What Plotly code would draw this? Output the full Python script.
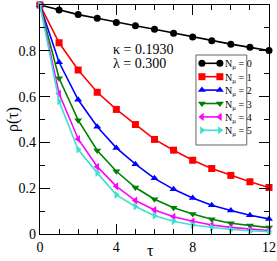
import plotly.graph_objects as go

tau = [0, 1, 2, 3, 4, 5, 6, 7, 8, 9, 10, 11, 12]
rho_n0 = [1.0, 0.978, 0.958, 0.942, 0.924, 0.909, 0.894, 0.877, 0.860, 0.844, 0.829, 0.815, 0.801]
rho_n1 = [1.0, 0.835, 0.716, 0.619, 0.544, 0.478, 0.413, 0.366, 0.322, 0.286, 0.256, 0.228, 0.203]
rho_n2 = [1.0, 0.750, 0.586, 0.468, 0.376, 0.305, 0.243, 0.195, 0.157, 0.126, 0.103, 0.082, 0.066]
rho_n3 = [1.0, 0.680, 0.497, 0.365, 0.274, 0.203, 0.152, 0.115, 0.087, 0.064, 0.047, 0.037, 0.028]
rho_n4 = [1.0, 0.613, 0.415, 0.294, 0.208, 0.146, 0.105, 0.075, 0.056, 0.039, 0.029, 0.021, 0.015]
rho_n5 = [1.0, 0.580, 0.369, 0.267, 0.171, 0.120, 0.080, 0.056, 0.039, 0.028, 0.020, 0.014, 0.010]

labels = ["N<sub>μ</sub> = 0", "N<sub>μ</sub> = 1", "N<sub>μ</sub> = 2",
          "N<sub>μ</sub> = 3", "N<sub>μ</sub> = 4", "N<sub>μ</sub> = 5"]
values = [rho_n0, rho_n1, rho_n2, rho_n3, rho_n4, rho_n5]
colors = ["black", "red", "blue", "green", "magenta", "#40E0D0"]
symbols = ["circle", "square", "triangle-up", "triangle-down", "triangle-left", "triangle-right"]

# plot area in pixels
L, R, T, B = 39.5, 269.3, 5.0, 234.0
W, H = R - L, B - T


def px(xp):
    return (xp - L) / W


def py(yp):
    return (B - yp) / H


serif = "Liberation Serif, Times New Roman, serif"

fig = go.Figure()
for name, vals, color, sym in zip(labels, values, colors, symbols):
    fig.add_trace(go.Scatter(
        x=tau, y=vals, name=name, mode="lines+markers",
        line=dict(color=color, width=1.6),
        marker=dict(color=color, symbol=sym, size=7),
        cliponaxis=False, showlegend=False,
    ))

# custom legend (box + line samples with markers at both ends), drawn on an overlay axis
box_l, box_r, box_t, box_b = 196.0, 247.0, 55.0, 145.0
row0, row_gap = 63.3, 13.4
fig.add_shape(type="rect", xref="paper", yref="paper",
              x0=px(box_l), x1=px(box_r), y0=py(box_b), y1=py(box_t),
              line=dict(color="#666666", width=1), fillcolor="white", layer="below")
for i, (name, color, sym) in enumerate(zip(labels, colors, symbols)):
    yrow = row0 + i * row_gap
    fig.add_trace(go.Scatter(
        x=[202.0, 220.0], y=[yrow, yrow], mode="lines+markers",
        line=dict(color=color, width=1.6),
        marker=dict(color=color, symbol=sym, size=7),
        xaxis="x2", yaxis="y2", showlegend=False, hoverinfo="skip", cliponaxis=False,
    ))
    fig.add_annotation(xref="paper", yref="paper", x=px(223.0), y=py(yrow + 1.5),
                       xanchor="left", yanchor="middle", showarrow=False,
                       text=name, font=dict(family=serif, size=10, color="black"))

axis_common = dict(
    showline=True, linecolor="black", linewidth=1.2, mirror="ticks",
    ticks="inside", ticklen=10, tickwidth=1, tickcolor="black",
    showgrid=False, zeroline=False, automargin=False,
    tickfont=dict(family=serif, size=14, color="black"),
)
fig.update_layout(
    xaxis=dict(range=[0, 12], tickvals=[0, 4, 8, 12], ticktext=["0", "4", "8", "12"],
               minor=dict(ticks="inside", ticklen=5, dtick=1, tick0=0, tickcolor="black", showgrid=False),
               **axis_common),
    yaxis=dict(range=[0, 1], tickvals=[0, 0.2, 0.4, 0.6, 0.8, 1],
               ticktext=["0", "0.2", "0.4", "0.6", "0.8", "1"],
               minor=dict(ticks="inside", ticklen=5, dtick=0.1, tick0=0, tickcolor="black", showgrid=False),
               **axis_common),
    xaxis2=dict(overlaying="x", range=[L, R], visible=False, automargin=False),
    yaxis2=dict(overlaying="y", range=[B, T], visible=False, automargin=False),
)

fig.add_annotation(xref="paper", yref="paper", x=px(12), y=0.5, xanchor="center", yanchor="middle",
                   showarrow=False, textangle=-90, text="ρ(τ)",
                   font=dict(family=serif, size=16, color="black"))
fig.add_annotation(xref="paper", yref="paper", x=px(150), y=py(250), xanchor="center", yanchor="middle",
                   showarrow=False, text="τ", font=dict(family=serif, size=16, color="black"))

fig.add_annotation(xref="paper", yref="paper", x=px(112), y=py(49),
                   xanchor="left", yanchor="middle", showarrow=False, borderpad=0,
                   text="κ = 0.1930", font=dict(family=serif, size=14, color="black"))
fig.add_annotation(xref="paper", yref="paper", x=px(112), y=py(63),
                   xanchor="left", yanchor="middle", showarrow=False, borderpad=0,
                   text="λ = 0.300", font=dict(family=serif, size=14, color="black"))

fig.update_layout(
    width=277, height=261,
    margin=dict(l=L, r=277 - R, t=T, b=261 - B, autoexpand=False),
    paper_bgcolor="white", plot_bgcolor="white",
    showlegend=False,
)

fig.write_html("out.html", config={"displayModeBar": False},
               post_script="document.body.style.margin='0px';document.body.style.overflow='hidden';")
